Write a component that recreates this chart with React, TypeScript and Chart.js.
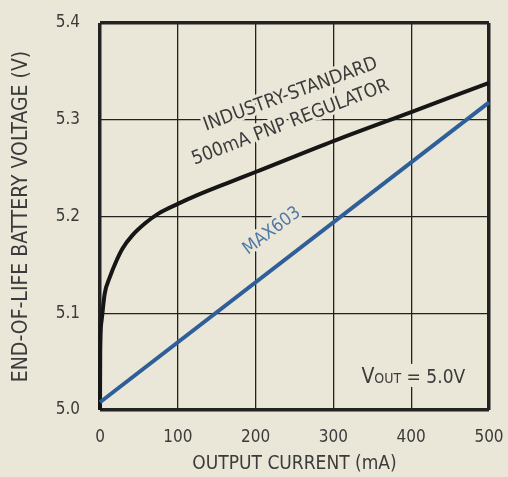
import React, { useEffect, useRef } from "react";
import { Chart, registerables } from "chart.js";

Chart.register(...registerables);

const xTicks = [0, 100, 200, 300, 400, 500];
const yTicks = [5.0, 5.1, 5.2, 5.3, 5.4];
const pnpCurrent = [0, 0.3, 2, 6, 12.5, 21, 29, 41, 58, 75, 100, 125, 162, 200, 300, 400, 500];
const pnpVoltage = [5.0, 5.06, 5.092, 5.12, 5.137, 5.154, 5.167, 5.18, 5.193, 5.203, 5.213, 5.222, 5.234, 5.246, 5.278, 5.308, 5.338];
const maxCurrent = [0, 500];
const maxVoltage = [5.008, 5.318];

const FONT = "'DejaVu Sans Condensed', 'DejaVu Sans', sans-serif";
const BG = "#ebe7d8";
const TXT = "#3b3b3b";

const labelsPlugin = {
  id: "labels",
  afterDatasetsDraw(chart: any) {
    const { ctx } = chart;
    const x = chart.scales.x;
    const y = chart.scales.y;
    const drawRot = (text: string, px: number, py: number, ang: number, color: string, size: number) => {
      ctx.save();
      ctx.translate(px, py);
      ctx.rotate((ang * Math.PI) / 180);
      ctx.font = `${size}px ${FONT}`;
      ctx.textAlign = "center";
      ctx.textBaseline = "middle";
      ctx.lineJoin = "round";
      ctx.strokeStyle = BG;
      ctx.lineWidth = 6;
      ctx.strokeText(text, 0, 0);
      ctx.fillStyle = color;
      ctx.fillText(text, 0, 0);
      ctx.restore();
    };
    drawRot("INDUSTRY-STANDARD", x.getPixelForValue(245), y.getPixelForValue(5.326), -20, TXT, 19);
    drawRot("500mA PNP REGULATOR", x.getPixelForValue(245), y.getPixelForValue(5.297), -21, TXT, 19);
    drawRot("MAX603", x.getPixelForValue(221), y.getPixelForValue(5.185), -37, "#4f78a8", 18);

    // VOUT = 5.0V
    ctx.save();
    const bx = x.getPixelForValue(336);
    const by = y.getPixelForValue(5.028);
    ctx.textBaseline = "alphabetic";
    ctx.textAlign = "left";
    ctx.font = `21px ${FONT}`;
    const w1 = ctx.measureText("V").width;
    ctx.font = `14px ${FONT}`;
    const w2 = ctx.measureText("OUT").width;
    ctx.font = `19px ${FONT}`;
    const w3 = ctx.measureText(" = 5.0V").width;
    ctx.fillStyle = BG;
    ctx.fillRect(bx - 3, by - 19, w1 + w2 + w3 + 6, 23);
    ctx.fillStyle = TXT;
    ctx.font = `21px ${FONT}`;
    ctx.fillText("V", bx, by);
    ctx.font = `14px ${FONT}`;
    ctx.fillText("OUT", bx + w1, by);
    ctx.font = `19px ${FONT}`;
    ctx.fillText(" = 5.0V", bx + w1 + w2, by);
    ctx.restore();
  },
};

export default function App() {
  const ref = useRef<HTMLCanvasElement>(null);
  useEffect(() => {
    document.body.style.margin = "0";
    const canvas = ref.current!;
    const chart = new Chart(canvas, {
      type: "scatter",
      data: {
        datasets: [
          {
            data: maxCurrent.map((c, i) => ({ x: c, y: maxVoltage[i] })),
            showLine: true,
            borderColor: "#2f5f98",
            borderWidth: 4,
            pointRadius: 0,
            clip: false as any,
          },
          {
            data: pnpCurrent.map((c, i) => ({ x: c, y: pnpVoltage[i] })),
            showLine: true,
            borderColor: "#161616",
            borderWidth: 4,
            pointRadius: 0,
            cubicInterpolationMode: "monotone",
            clip: false as any,
          },
        ],
      },
      options: {
        animation: false,
        responsive: false,
        devicePixelRatio: 1,
        layout: { padding: { left: 0, right: 19, top: 23, bottom: 0 } },
        plugins: { legend: { display: false }, tooltip: { enabled: false } },
        scales: {
          x: {
            type: "linear",
            min: 0,
            max: 500,
            afterBuildTicks: (s: any) => {
              s.ticks = xTicks.map((v) => ({ value: v }));
            },
            afterFit: (s: any) => {
              s.height = 67;
              s.paddingLeft = 0;
              s.paddingRight = 0;
            },
            ticks: { color: TXT, font: { family: FONT, size: 17 }, padding: 17, maxRotation: 0 },
            grid: {
              drawTicks: false,
              color: "#222",
              lineWidth: (c: any) => (c.index === 0 || c.index === xTicks.length - 1 ? 3.5 : 1.3),
            },
            border: { display: false },
            title: {
              display: true,
              text: "OUTPUT CURRENT (mA)",
              color: TXT,
              font: { family: FONT, size: 19 },
              padding: { top: 0, bottom: 2 },
            },
          },
          y: {
            type: "linear",
            min: 5.0,
            max: 5.4,
            afterBuildTicks: (s: any) => {
              s.ticks = yTicks.map((v) => ({ value: v }));
            },
            afterFit: (s: any) => {
              s.width = 100;
              s.paddingTop = 0;
              s.paddingBottom = 0;
            },
            ticks: {
              color: TXT,
              font: { family: FONT, size: 17 },
              padding: 20,
              callback: (v: any) => Number(v).toFixed(1),
            },
            grid: {
              drawTicks: false,
              color: "#222",
              lineWidth: (c: any) => (c.index === 0 || c.index === yTicks.length - 1 ? 3.5 : 1.3),
            },
            border: { display: false },
            title: {
              display: true,
              text: "END-OF-LIFE BATTERY VOLTAGE (V)",
              color: TXT,
              font: { family: FONT, size: 21 },
              padding: { top: 9, bottom: 0 },
            },
          },
        },
      },
      plugins: [labelsPlugin],
    });
    return () => chart.destroy();
  }, []);
  return (
    <div style={{ position: "absolute", left: 0, top: 0, width: 508, height: 477, background: BG }}>
      <canvas ref={ref} width={508} height={477} style={{ display: "block" }} />
    </div>
  );
}
